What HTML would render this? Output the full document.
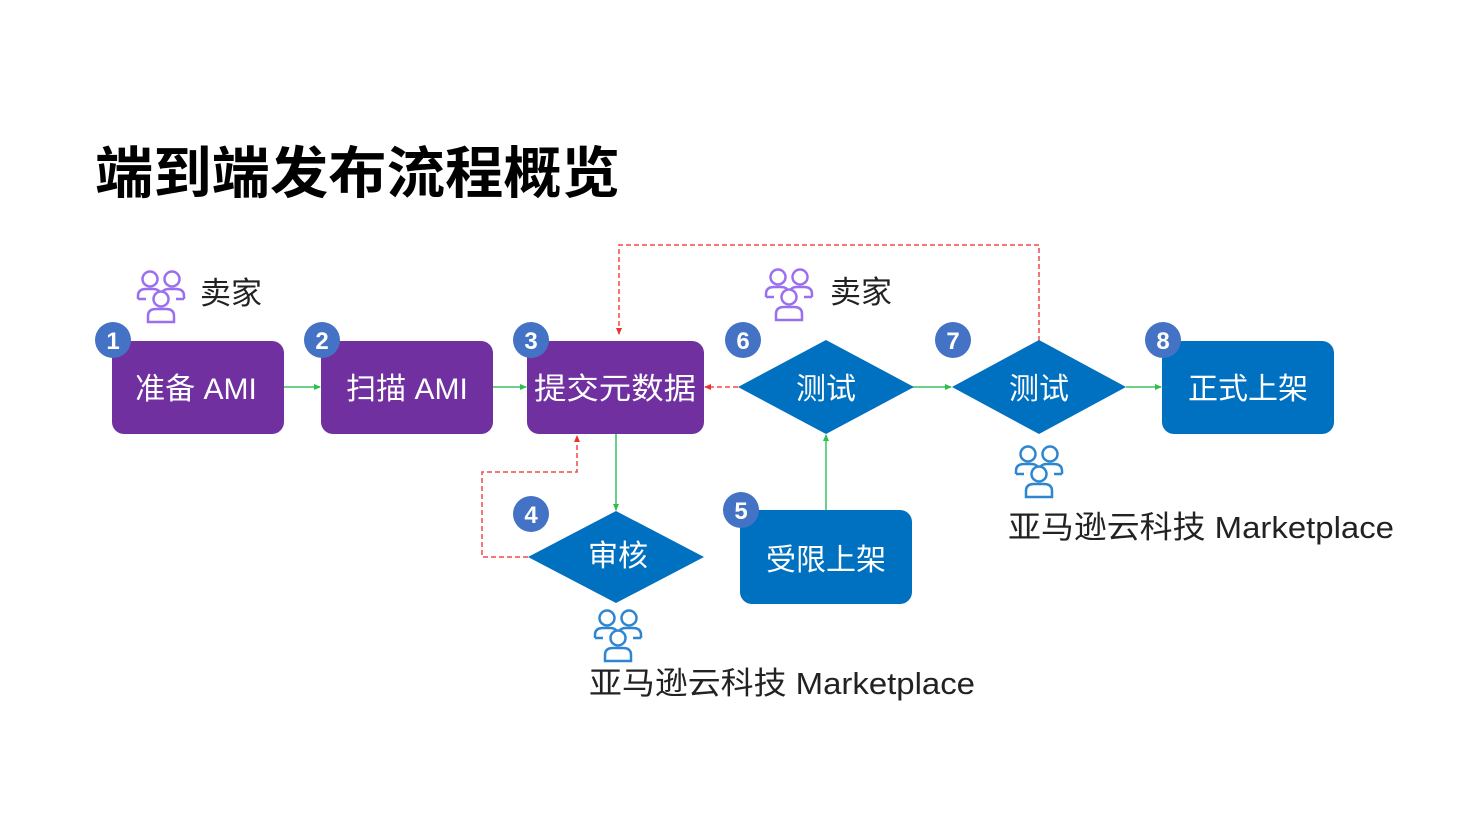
<!DOCTYPE html>
<html><head><meta charset="utf-8"><style>
html,body{margin:0;padding:0;background:#fff;}
svg{display:block;}
text{font-family:"Liberation Sans","Noto Sans CJK SC",sans-serif;}
</style></head><body>
<svg width="1478" height="830" viewBox="0 0 1478 830" xmlns="http://www.w3.org/2000/svg">
<defs>
<marker id="ga" markerWidth="8" markerHeight="8" refX="6" refY="4" orient="auto" markerUnits="userSpaceOnUse"><path d="M0,1 L7,4 L0,7 Z" fill="#2fbf4f"/></marker>
<marker id="ra" markerWidth="8" markerHeight="8" refX="6" refY="4" orient="auto" markerUnits="userSpaceOnUse"><path d="M0,1 L7,4 L0,7 Z" fill="#f03030"/></marker>
</defs>
<text x="95" y="193" font-size="56" font-weight="bold" fill="#000" textLength="525" lengthAdjust="spacingAndGlyphs">端到端发布流程概览</text>

<!-- connectors -->
<g stroke="#3cc060" stroke-width="1.5" fill="none">
<line x1="284" y1="387" x2="320" y2="387" marker-end="url(#ga)"/>
<line x1="493" y1="387" x2="526" y2="387" marker-end="url(#ga)"/>
<line x1="616" y1="434" x2="616" y2="510" marker-end="url(#ga)"/>
<line x1="912" y1="387" x2="951" y2="387" marker-end="url(#ga)"/>
<line x1="1126" y1="387" x2="1161" y2="387" marker-end="url(#ga)"/>
<line x1="826" y1="510" x2="826" y2="435" marker-end="url(#ga)"/>
</g>
<g stroke="#f04848" stroke-width="1.5" fill="none" stroke-dasharray="5,3">
<polyline points="1039,341 1039,245 619,245 619,334" marker-end="url(#ra)"/>
<line x1="738" y1="387" x2="705" y2="387" marker-end="url(#ra)"/>
<polyline points="528,557 482,557 482,472 577,472 577,436" marker-end="url(#ra)"/>
</g>

<!-- purple boxes -->
<g fill="#7030a0">
<rect x="112" y="341" width="172" height="93" rx="12"/>
<rect x="321" y="341" width="172" height="93" rx="12"/>
<rect x="527" y="341" width="177" height="93" rx="12"/>
</g>
<g fill="#0070c0">
<polygon points="738,387 826,340 914,387 826,434"/>
<polygon points="952,387 1039,340 1126,387 1039,434"/>
<rect x="1162" y="341" width="172" height="93" rx="12"/>
<polygon points="528,557 616,511 704,557 616,603"/>
<rect x="740" y="510" width="172" height="94" rx="12"/>
</g>
<g fill="#fff" font-size="30" text-anchor="middle">
<text x="196" y="399">准备 AMI</text>
<text x="407" y="399">扫描 AMI</text>
<text x="615" y="399" textLength="162" lengthAdjust="spacingAndGlyphs">提交元数据</text>
<text x="826" y="399">测试</text>
<text x="1039" y="399">测试</text>
<text x="1248" y="399">正式上架</text>
<text x="618" y="566">审核</text>
<text x="826" y="570">受限上架</text>
</g>

<!-- number circles -->
<g fill="#4472c4">
<circle cx="113" cy="340" r="18"/><circle cx="322" cy="340" r="18"/><circle cx="531" cy="340" r="18"/>
<circle cx="743" cy="340" r="18"/><circle cx="953" cy="340" r="18"/><circle cx="1163" cy="340" r="18"/>
<circle cx="531" cy="514" r="18"/><circle cx="741" cy="510" r="18"/>
</g>
<g fill="#fff" font-size="24" font-weight="bold" text-anchor="middle">
<text x="113" y="349">1</text><text x="322" y="349">2</text><text x="531" y="349">3</text>
<text x="743" y="349">6</text><text x="953" y="349">7</text><text x="1163" y="349">8</text>
<text x="531" y="523">4</text><text x="741" y="519">5</text>
</g>

<!-- people icons -->
<g id="p1" fill="none" stroke="#9a6ff0" stroke-width="2.5" transform="translate(161,268)">
<circle cx="-11" cy="11" r="7.5"/><circle cx="11" cy="11" r="7.5"/>
<path d="M-23,31 L-23,28 Q-23,21 -15,21 L-8,21 Q-4,21 -2,23 M-23,31 L-15,31"/>
<path d="M23,31 L23,28 Q23,21 15,21 L8,21 Q4,21 2,23 M23,31 L15,31"/>
<circle cx="0" cy="31" r="7.5"/>
<path d="M-13,54 L-13,48 Q-13,41 -5,41 L5,41 Q13,41 13,48 L13,54 Z"/>
</g>
<g fill="none" stroke="#9a6ff0" stroke-width="2.5" transform="translate(789,266)">
<circle cx="-11" cy="11" r="7.5"/><circle cx="11" cy="11" r="7.5"/>
<path d="M-23,31 L-23,28 Q-23,21 -15,21 L-8,21 Q-4,21 -2,23 M-23,31 L-15,31"/>
<path d="M23,31 L23,28 Q23,21 15,21 L8,21 Q4,21 2,23 M23,31 L15,31"/>
<circle cx="0" cy="31" r="7.5"/>
<path d="M-13,54 L-13,48 Q-13,41 -5,41 L5,41 Q13,41 13,48 L13,54 Z"/>
</g>
<g fill="none" stroke="#2f86d0" stroke-width="2.5" transform="translate(1039,443)">
<circle cx="-11" cy="11" r="7.5"/><circle cx="11" cy="11" r="7.5"/>
<path d="M-23,31 L-23,28 Q-23,21 -15,21 L-8,21 Q-4,21 -2,23 M-23,31 L-15,31"/>
<path d="M23,31 L23,28 Q23,21 15,21 L8,21 Q4,21 2,23 M23,31 L15,31"/>
<circle cx="0" cy="31" r="7.5"/>
<path d="M-13,54 L-13,48 Q-13,41 -5,41 L5,41 Q13,41 13,48 L13,54 Z"/>
</g>
<g fill="none" stroke="#2f86d0" stroke-width="2.5" transform="translate(618,607)">
<circle cx="-11" cy="11" r="7.5"/><circle cx="11" cy="11" r="7.5"/>
<path d="M-23,31 L-23,28 Q-23,21 -15,21 L-8,21 Q-4,21 -2,23 M-23,31 L-15,31"/>
<path d="M23,31 L23,28 Q23,21 15,21 L8,21 Q4,21 2,23 M23,31 L15,31"/>
<circle cx="0" cy="31" r="7.5"/>
<path d="M-13,54 L-13,48 Q-13,41 -5,41 L5,41 Q13,41 13,48 L13,54 Z"/>
</g>

<g fill="#222" font-size="31">
<text x="200" y="304">卖家</text>
<text x="830" y="303">卖家</text>
<text x="1008" y="538" textLength="386" lengthAdjust="spacingAndGlyphs">亚马逊云科技 Marketplace</text>
<text x="589" y="694" textLength="386" lengthAdjust="spacingAndGlyphs">亚马逊云科技 Marketplace</text>
</g>
</svg>
</body></html>
